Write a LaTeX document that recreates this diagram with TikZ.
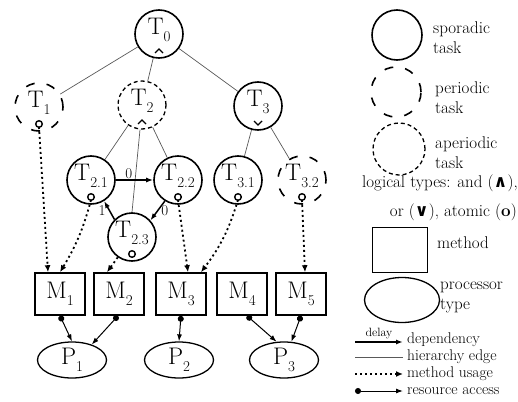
\documentclass[tikz,border=0pt]{standalone}
\usepackage{fontspec}
\newfontfamily\symfont{DejaVu Sans}
\usetikzlibrary{arrows.meta,calc,shapes.geometric}
\newcommand\subx[1]{\raisebox{-0.28em}{\fontsize{15}{15}\selectfont #1}}
\tikzset{
 task/.style={circle, minimum size=48pt, inner sep=0pt, line width=1.6pt, draw},
 sporadic/.style={task},
 periodic/.style={task, dash pattern=on 9pt off 12pt},
 aperiodic/.style={task, dash pattern=on 4pt off 3pt, line width=1.3pt},
 tlab/.style={inner sep=0pt, font=\fontsize{24}{24}\selectfont},
 method/.style={draw, line width=1.6pt, minimum width=50pt, minimum height=42pt, inner sep=0pt, font=\fontsize{24}{24}\selectfont},
 proc/.style={draw, ellipse, line width=1.3pt, minimum width=69pt, minimum height=36pt, inner sep=0pt, font=\fontsize{24}{24}\selectfont},
 hier/.style={gray!70!black, line width=0.7pt},
 dep/.style={line width=1.5pt, -{Latex[length=7pt,width=5pt]}},
 usage/.style={line width=1.8pt, dash pattern=on 2pt off 3pt, -{Latex[length=7pt,width=6pt]}},
 access/.style={line width=1pt, {Circle[length=6pt]}-{Latex[length=7pt,width=5pt]}},
 logic/.style={line width=1.4pt},
 legtext/.style={font=\fontsize{17}{20}\selectfont, inner sep=0pt, anchor=west, align=left},
 legsmall/.style={font=\fontsize{15.5}{15.5}\selectfont, inner sep=0pt, anchor=west},
 dlab/.style={font=\fontsize{15}{15}\selectfont, inner sep=1pt},
}
\begin{document}
\begin{tikzpicture}[x=1pt,y=-1pt]
\useasboundingbox (0,0) rectangle (518,401);
% tasks
\node[sporadic] (T0) at (159,34) {};
\node[periodic] (T1) at (39,107) {};
\node[aperiodic] (T2) at (142,105) {};
\node[sporadic] (T3) at (258,106) {};
\node[sporadic] (T21) at (91,180) {};
\node[sporadic] (T22) at (178,180) {};
\node[sporadic] (T23) at (132,237) {};
\node[sporadic] (T31) at (238,180) {};
\node[periodic] (T32) at (302,180) {};
% task labels
\node[tlab] (T0l) at ([yshift=4pt]T0.center) {T\subx{0}};
\node[tlab] (T1l) at ([yshift=4pt]T1.center) {T\subx{1}};
\node[tlab] (T2l) at ([yshift=4pt]T2.center) {T\subx{2}};
\node[tlab] (T3l) at ([yshift=4pt]T3.center) {T\subx{3}};
\node[tlab] (T21l) at ([yshift=4pt]T21.center) {T\subx{2.1}};
\node[tlab] (T22l) at ([yshift=4pt]T22.center) {T\subx{2.2}};
\node[tlab] (T23l) at ([yshift=4pt]T23.center) {T\subx{2.3}};
\node[tlab] (T31l) at ([yshift=4pt]T31.center) {T\subx{3.1}};
\node[tlab] (T32l) at ([yshift=4pt]T32.center) {T\subx{3.2}};
% logical markers
\draw[logic] ($(T0.center)+(-4,19)$) -- ++(4,-4) -- ++(4,4);
\draw[logic] ($(T2.center)+(-4,19)$) -- ++(4,-4) -- ++(4,4);
\draw[logic] ($(T3.center)+(-4,15)$) -- ++(4,4) -- ++(4,-4);
\foreach \t in {T1,T21,T22,T23,T31,T32}{
  \coordinate (\t a) at ($(\t.center)+(0,17)$);
  \draw[logic] (\t a) circle[radius=3.3pt];
}
% methods
\node[method] (M1) at (60,294) {M\subx{1}};
\node[method] (M2) at (119,294) {M\subx{2}};
\node[method] (M3) at (181,294) {M\subx{3}};
\node[method] (M4) at (242,294) {M\subx{4}};
\node[method] (M5) at (301,294) {M\subx{5}};
% processors
\node[proc] (P1) at (72,360) {P\subx{1}};
\node[proc] (P2) at (179,360) {P\subx{2}};
\node[proc] (P3) at (284,360) {P\subx{3}};
% hierarchy edges
\draw[hier] (T0) -- (T1);
\draw[hier] (T0) -- (T2);
\draw[hier] (T0) -- (T3);
\draw[hier] (T2) -- (T21);
\draw[hier] (T2) -- (T22);
\draw[hier] ([xshift=-2pt]T2.south) -- (T23.north);
\draw[hier] (T3) -- (T31);
\draw[hier] (T3) -- (T32);
% dependencies
\draw[dep] (T21.east) -- node[dlab, pos=0.35, above] (d1) {0} (T22.west);
\draw[dep] (T23.135) -- node[dlab, left=2pt] (d2) {1} (T21.-58);
\draw[dep] (T22.-122) -- node[dlab, right=2pt] (d3) {0} (T23.42);
% method usage
\draw[usage] ([yshift=-3pt]T1a) -- ([xshift=-12pt]M1.north);
\draw[usage] ([yshift=-3pt]T21a) to[bend left=8] ([xshift=0pt]M1.north);
\draw[usage] (T23.235) -- ([xshift=-12pt]M2.north);
\draw[usage] ([yshift=-3pt]T22a) -- ([xshift=7pt]M3.north);
\draw[usage] ([yshift=-3pt]T31a) to[bend left=10] ([xshift=20pt]M3.north);
\draw[usage] ([yshift=-3pt]T32a) -- ([xshift=4pt]M5.north);
% resource access
\draw[access] (M1.south) -- (P1.north);
\draw[access] ([xshift=-1pt]M2.south) -- (P1.38);
\draw[access] (M3.south) -- (P2.north);
\draw[access] ([xshift=5pt]M4.south) -- (P3.112);
\draw[access] (M5.south) -- (P3.68);
% legend
\node[sporadic, minimum size=50pt] (Ls) at (397,35) {};
\node[legtext] (Lst) at (433,38) {sporadic\\task};
\node[periodic, minimum size=50pt] (Lp) at (396,92) {};
\node[legtext] (Lpt) at (435,98) {periodic\\task};
\node[aperiodic, minimum size=52pt] (La) at (399,149) {};
\node[legtext] (Lat) at (435,153) {aperiodic\\task};
\node[legtext, anchor=east] (Ll1) at (518,183) {logical types: and ({\symfont\bfseries ∧}),};
\node[legtext, anchor=east] (Ll2) at (517,212) {or ({\symfont\bfseries ∨}), atomic (\textbf{o})};
\node[method, minimum width=55pt, minimum height=45pt] (Lm) at (400,250) {};
\node[legtext] (Lmt) at (437,243) {method};
\node[proc, minimum width=75pt, minimum height=45pt] (Lpr) at (402,300) {};
\node[legtext] (Lprt) at (440,297) {processor\\type};
\coordinate (A1) at (355,342); \coordinate (B1) at (403,342);
\draw[dep] (A1) -- node[dlab, above, font=\fontsize{12}{12}\selectfont, inner sep=2pt] (Ldl) {delay} (B1);
\node[legsmall] (L1t) at (407,340) {dependency};
\coordinate (A2) at (355,357); \coordinate (B2) at (403,357);
\draw[hier] (A2) -- (B2);
\node[legsmall] (L2t) at (407,357) {hierarchy edge};
\coordinate (A3) at (355,374); \coordinate (B3) at (403,374);
\draw[usage] (A3) -- (B3);
\node[legsmall] (L3t) at (407,374) {method usage};
\coordinate (A4) at (355,391); \coordinate (B4) at (403,391);
\draw[access] (A4) -- (B4);
\node[legsmall] (L4t) at (407,391) {resource access};
\end{tikzpicture}
\end{document}
